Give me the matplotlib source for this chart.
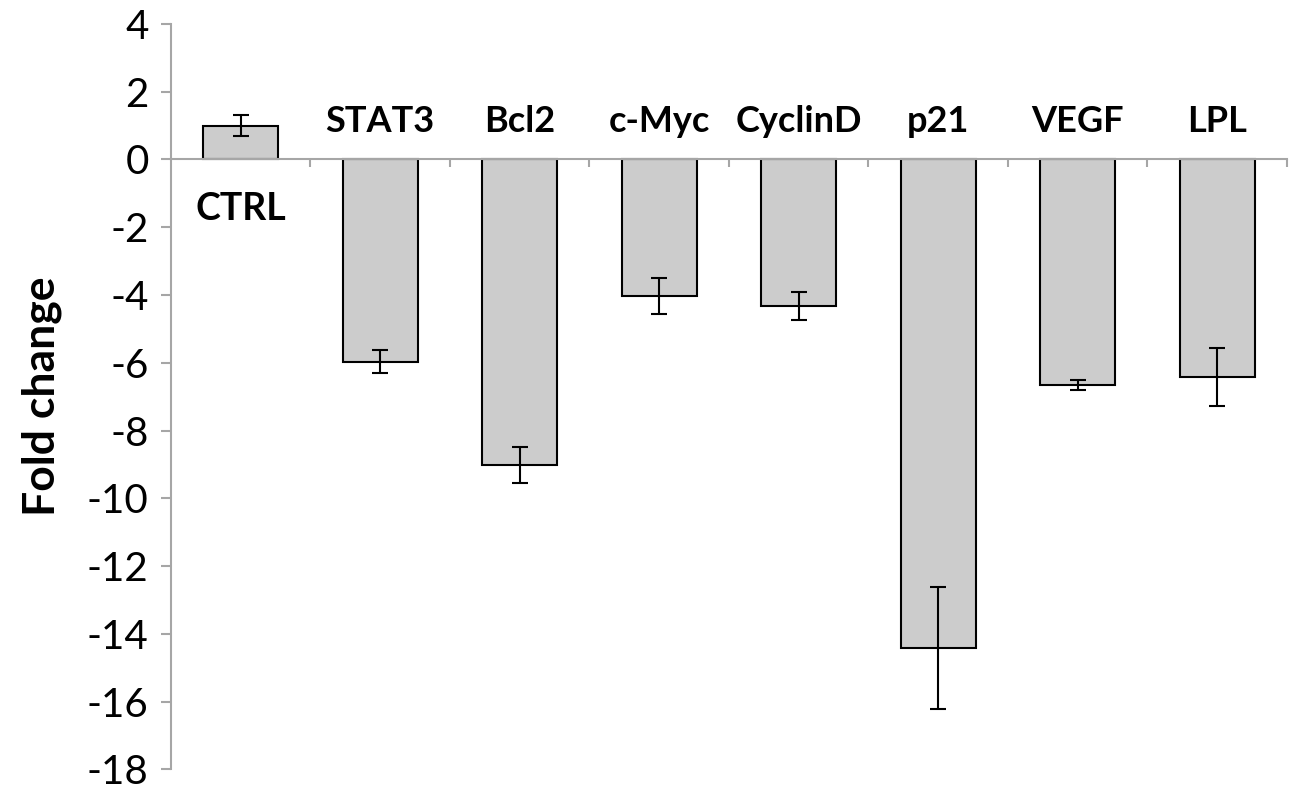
import numpy as np
import matplotlib
matplotlib.use("Agg")
import matplotlib.pyplot as plt

# Gene expression fold change
genes = ["CTRL", "STAT3", "Bcl2", "c-Myc", "CyclinD", "p21", "VEGF", "LPL"]
fold = [1.00, -5.97, -9.02, -4.03, -4.32, -14.41, -6.66, -6.42]
err = [0.32, 0.34, 0.53, 0.52, 0.41, 1.80, 0.14, 0.85]
yticks = list(range(-18, 5, 2))

plt.rcParams['font.family'] = ['Lato', 'DejaVu Sans']

fig = plt.figure(figsize=(12.98, 7.91), dpi=100)
ax = fig.add_axes([0.1317, 0.0274, 0.8598, 0.9423])

x = np.arange(len(genes))
ax.bar(x, fold, width=0.535, color='#cccccc', edgecolor='black', linewidth=1.5, zorder=2)
ax.errorbar(x, fold, yerr=err, fmt='none', ecolor='black', elinewidth=1.5,
            capsize=6, capthick=1.5, zorder=3)

# category names: above the axis for negative bars, below for positive
for xi, name, val in zip(x, genes, fold):
    if val < 0:
        ax.text(xi, 0.62, name, ha='center', va='bottom', fontsize=26, fontweight='bold')
    else:
        ax.text(xi, -0.95, name, ha='center', va='top', fontsize=27, fontweight='bold')

ax.set_xlim(-0.5, len(genes) - 0.5)
ax.set_ylim(-18, 4)
ax.set_yticks(yticks)
ax.set_yticklabels([str(t) for t in yticks], fontsize=29)
ax.set_xticks(np.arange(len(genes)) + 0.5)
ax.set_xticklabels([])

axis_col = '#a6a6a6'
for s in ['top', 'right']:
    ax.spines[s].set_visible(False)
ax.spines['bottom'].set_position(('data', 0))
ax.spines['bottom'].set_color(axis_col)
ax.spines['left'].set_color(axis_col)
ax.spines['bottom'].set_linewidth(1.5)
ax.spines['left'].set_linewidth(1.5)
ax.tick_params(axis='y', direction='out', length=7, width=1.5, color=axis_col, pad=9)
ax.tick_params(axis='x', direction='out', length=6, width=1.5, color=axis_col)

ax.set_ylabel('Fold change', fontsize=32, fontweight='bold', labelpad=18)

fig.savefig('out.png', dpi=100)
